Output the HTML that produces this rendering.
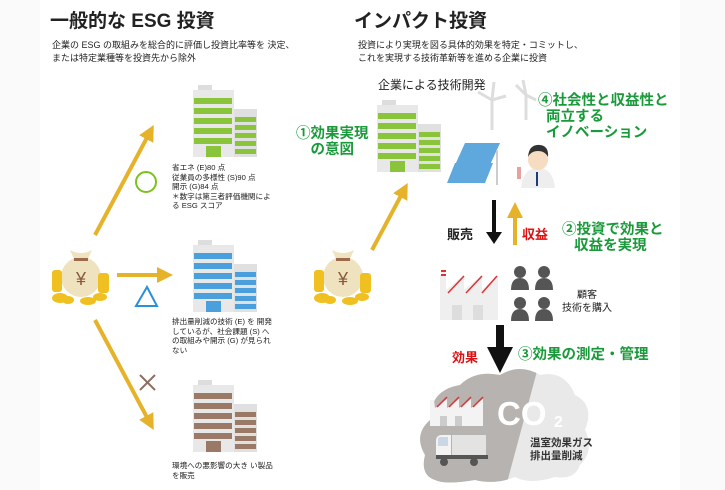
<!DOCTYPE html><html><head><meta charset="utf-8"><style>
body{margin:0;width:725px;height:490px;background:#fff;position:relative;overflow:hidden;font-family:"Liberation Sans","Noto Sans CJK JP",sans-serif;color:#222}
.a{position:absolute;white-space:nowrap}
.t{font-size:19px;font-weight:bold;color:#222}
.s{font-size:9px;line-height:13px}
.sm{font-size:7.6px;line-height:9.5px}
.g{color:#1a9a3a;font-weight:bold;font-size:14.5px;line-height:16px}
.r{color:#e01010;font-weight:bold;font-size:13px}
.b{font-weight:bold;font-size:13px}
</style></head><body>
<svg class="a" style="left:0;top:0" width="725" height="490">
<defs>
<g id="bld">
<rect x="5" y="0" width="14" height="5" fill="#ddd"/>
<rect x="0" y="5" width="41" height="67" fill="#e8e8e8"/>
<rect x="41" y="24" width="23" height="48" fill="#e0e0e0"/>
</g>
<marker id="ya" markerWidth="4" markerHeight="4" refX="2" refY="2" orient="auto"><path d="M0,0L4,2L0,4z" fill="#e5b22a"/></marker>
<marker id="ka" markerWidth="3" markerHeight="4" refX="1" refY="2" orient="auto"><path d="M0,0L3,2L0,4z" fill="#111"/></marker>
</defs>
<rect x="0" y="0" width="40" height="490" fill="#fafafa"/>
<rect x="680" y="0" width="45" height="490" fill="#fafafa"/>
<!-- buildings -->
<g transform="translate(193,85)"><use href="#bld"/><g fill="#8ac43a">
<rect x="1" y="13" width="38" height="6"/><rect x="1" y="23" width="38" height="6"/><rect x="1" y="33" width="38" height="6"/><rect x="1" y="43" width="38" height="6"/><rect x="1" y="53" width="38" height="6"/>
<rect x="42" y="32" width="21" height="5"/><rect x="42" y="40" width="21" height="5"/><rect x="42" y="48" width="21" height="5"/><rect x="42" y="56" width="21" height="5"/><rect x="42" y="64" width="21" height="5"/><rect x="13" y="61" width="15" height="11"/></g></g>
<g transform="translate(193,240)"><use href="#bld"/><g fill="#4aa0dc">
<rect x="1" y="13" width="38" height="6"/><rect x="1" y="23" width="38" height="6"/><rect x="1" y="33" width="38" height="6"/><rect x="1" y="43" width="38" height="6"/><rect x="1" y="53" width="38" height="6"/>
<rect x="42" y="32" width="21" height="5"/><rect x="42" y="40" width="21" height="5"/><rect x="42" y="48" width="21" height="5"/><rect x="42" y="56" width="21" height="5"/><rect x="42" y="64" width="21" height="5"/><rect x="13" y="61" width="15" height="11"/></g></g>
<g transform="translate(193,380)"><use href="#bld"/><g fill="#9a7a66">
<rect x="1" y="13" width="38" height="6"/><rect x="1" y="23" width="38" height="6"/><rect x="1" y="33" width="38" height="6"/><rect x="1" y="43" width="38" height="6"/><rect x="1" y="53" width="38" height="6"/>
<rect x="42" y="32" width="21" height="5"/><rect x="42" y="40" width="21" height="5"/><rect x="42" y="48" width="21" height="5"/><rect x="42" y="56" width="21" height="5"/><rect x="42" y="64" width="21" height="5"/><rect x="13" y="61" width="15" height="11"/></g></g>
<g transform="translate(377,100)"><use href="#bld"/><g fill="#8ac43a">
<rect x="1" y="13" width="38" height="6"/><rect x="1" y="23" width="38" height="6"/><rect x="1" y="33" width="38" height="6"/><rect x="1" y="43" width="38" height="6"/><rect x="1" y="53" width="38" height="6"/>
<rect x="42" y="32" width="21" height="5"/><rect x="42" y="40" width="21" height="5"/><rect x="42" y="48" width="21" height="5"/><rect x="42" y="56" width="21" height="5"/><rect x="42" y="64" width="21" height="5"/><rect x="13" y="61" width="15" height="11"/></g></g>
<!-- arrows -->
<g stroke="#e5b22a" stroke-width="4" fill="none">
<line x1="95" y1="235" x2="150" y2="132" marker-end="url(#ya)"/>
<line x1="117" y1="275" x2="165" y2="275" marker-end="url(#ya)"/>
<line x1="95" y1="320" x2="150" y2="423" marker-end="url(#ya)"/>
<line x1="372" y1="250" x2="404" y2="190" marker-end="url(#ya)"/>
<line x1="515" y1="245" x2="515" y2="210" marker-end="url(#ya)"/>
</g>
<line x1="494" y1="200" x2="494" y2="236" stroke="#111" stroke-width="4" marker-end="url(#ka)"/>
<path d="M496,325h8v22h9l-13,26l-13,-26h9z" fill="#111"/>
<!-- symbols -->
<circle cx="146" cy="182" r="10" fill="none" stroke="#7cc21e" stroke-width="2"/>
<path d="M147,287L157,306H136z" fill="none" stroke="#2a90d8" stroke-width="2"/>
<path d="M140,375L155,390M155,375L140,390" stroke="#8a7060" stroke-width="2"/>
<!-- money bags -->
<g id="bag"><ellipse cx="81" cy="277" rx="20" ry="20" fill="#efe2bf"/><path d="M70,250q11,6 22,0l-4,9h-14z" fill="#efe2bf"/><rect x="74" y="258" width="14" height="3" fill="#9a6a4a"/>
<text x="81" y="285" font-size="18" text-anchor="middle" fill="#8a5a3a" font-family="Liberation Sans">¥</text>
<g fill="#f0c020"><rect x="52" y="270" width="10" height="22" rx="3"/><rect x="98" y="273" width="11" height="20" rx="3"/><ellipse cx="60" cy="298" rx="8" ry="5"/><ellipse cx="88" cy="301" rx="8" ry="4"/><ellipse cx="100" cy="297" rx="7" ry="4"/><ellipse cx="68" cy="300" rx="6" ry="4"/></g></g>
<use href="#bag" transform="translate(262,0)"/>
<!-- windmill -->
<g stroke="#ddd" stroke-width="3" fill="none"><path d="M492,130V100M492,100l-14,-8M492,100l14,-4M492,100l2,-18M526,120V95M526,95l-10,-10M526,95l-3,-15M526,95l10,5"/></g>
<!-- solar -->
<path d="M465,143h35l-10,22h-35z" fill="#5ea8dd"/><path d="M455,163h38l-8,20h-38z" fill="#5ea8dd"/><line x1="497" y1="150" x2="497" y2="185" stroke="#ccc" stroke-width="2"/>
<!-- person -->
<path d="M521,188q2,-20 17,-20q15,0 17,20z" fill="#eee"/><circle cx="538" cy="160" r="10" fill="#f6dcc0"/><path d="M528,157q1,-13 12,-12q9,1 8,12q-3,-6 -10,-6q-7,0 -10,6z" fill="#333"/><line x1="537" y1="172" x2="537" y2="186" stroke="#1c3c7c" stroke-width="2"/><rect x="517" y="167" width="4" height="12" fill="#e8a0a0"/>
<!-- factory -->
<g><rect x="441" y="270" width="4" height="6" fill="#eee"/><path d="M440,320V275h6v15l18,-15v15l18,-15v15l16,-15v45z" fill="#efefef"/><path d="M448,293l16,-17M466,293l16,-17M482,293l15,-17" stroke="#e03030" stroke-width="1.5"/><rect x="441" y="270" width="5" height="2" fill="#e03030"/><rect x="441" y="274" width="5" height="2" fill="#e03030"/><rect x="452" y="305" width="10" height="15" fill="#ddd"/><rect x="473" y="305" width="10" height="15" fill="#ddd"/></g>
<!-- people -->
<g fill="#555"><circle cx="520" cy="272" r="6"/><path d="M511,290q0,-12 9,-12q9,0 9,12z"/><circle cx="544" cy="272" r="6"/><path d="M535,290q0,-12 9,-12q9,0 9,12z"/><circle cx="520" cy="303" r="6"/><path d="M511,321q0,-12 9,-12q9,0 9,12z"/><circle cx="544" cy="303" r="6"/><path d="M535,321q0,-12 9,-12q9,0 9,12z"/></g>
<!-- cloud -->
<clipPath id="cl"><path d="M435,480q-15,-5 -10,-25q-12,-20 5,-35q0,-30 30,-35q15,-15 40,-10q20,-12 40,0q25,-5 35,20q20,10 10,35q10,20 -5,35q-5,15 -25,12q-25,8 -40,0q-20,8 -40,3q-30,5 -40,0z"/></clipPath>
<g clip-path="url(#cl)"><rect x="410" y="360" width="180" height="130" fill="#e9e9e9"/><path d="M410,360H540L505,490H410z" fill="#b6b3b0"/></g>
<g><path d="M430,426V400h4l1,8l12,-9v9l12,-9v9l12,-9v9l12,-9v27z" fill="#f3f3f3"/><path d="M437,407l10,-10M449,407l10,-10M461,407l10,-10M473,407l10,-10" stroke="#e03030" stroke-width="1.5"/><rect x="440" y="416" width="7" height="10" fill="#ccc"/><rect x="455" y="416" width="7" height="10" fill="#ccc"/></g>
<text x="497" y="425" font-size="33" fill="#fff" font-family="Liberation Sans" font-weight="bold">CO</text><text x="554" y="427" font-size="16" fill="#fff" font-family="Liberation Sans" font-weight="bold">2</text>
<g><rect x="452" y="435" width="34" height="20" fill="#e3e3e3"/><path d="M436,459v-18q0,-6 6,-6h9v24z" fill="#f3f3f3"/><path d="M438,446v-7q0,-2 3,-2h7v9z" fill="#cbd6e6"/><rect x="436" y="455" width="52" height="4" fill="#555"/><circle cx="444" cy="462" r="4" fill="#555"/><circle cx="474" cy="462" r="4" fill="#555"/></g>
</svg>
<div class="a t" style="left:50px;top:6px">一般的な ESG 投資</div>
<div class="a t" style="left:354px;top:6px">インパクト投資</div>
<div class="a s" style="left:52px;top:39px">企業の ESG の取組みを総合的に評価し投資比率等を 決定、<br>または特定業種等を投資先から除外</div>
<div class="a s" style="left:358px;top:39px">投資により実現を図る具体的効果を特定・コミットし、<br>これを実現する技術革新等を進める企業に投資</div>
<div class="a sm" style="left:172px;top:163px">省エネ (E)80 点<br>従業員の多様性 (S)90 点<br>開示 (G)84 点<br>＊数字は第三者評価機関によ<br>る ESG スコア</div>
<div class="a sm" style="left:172px;top:317px">排出量削減の技術 (E) を 開発<br>しているが、社会課題 (S) へ<br>の取組みや開示 (G) が見られ<br>ない</div>
<div class="a sm" style="left:172px;top:461px">環境への悪影響の大き い製品<br>を販売</div>
<div class="a" style="left:378px;top:76px;font-size:12px">企業による技術開発</div>
<div class="a g" style="left:296px;top:126px;text-align:center">①効果実現<br>の意図</div>
<div class="a g" style="left:538px;top:93px">④社会性と収益性と<br>&nbsp;&nbsp;両立する<br>&nbsp;&nbsp;イノベーション</div>
<div class="a b" style="left:447px;top:224px">販売</div>
<div class="a r" style="left:522px;top:224px">収益</div>
<div class="a g" style="left:562px;top:222px">②投資で効果と<br>&nbsp;&nbsp;&nbsp;収益を実現</div>
<div class="a" style="left:562px;top:289px;font-size:10px;line-height:13px;text-align:center">顧客<br>技術を購入</div>
<div class="a r" style="left:452px;top:347px">効果</div>
<div class="a g" style="left:518px;top:347px">③効果の測定・管理</div>
<div class="a" style="left:530px;top:437px;font-size:10.5px;line-height:13px;font-weight:bold;color:#333">温室効果ガス<br>排出量削減</div>
</body></html>
